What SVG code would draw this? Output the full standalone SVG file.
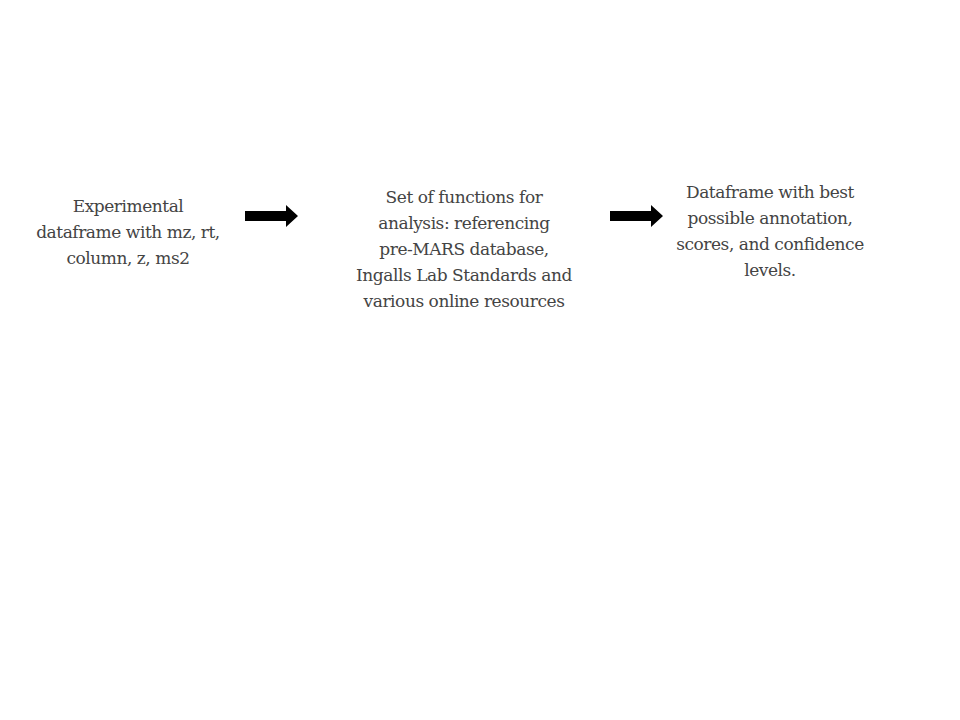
<svg xmlns="http://www.w3.org/2000/svg" width="960" height="720" viewBox="0 0 960 720">
<style>
text { font-family: "DejaVu Serif", "Liberation Serif", serif; font-size: 17px; letter-spacing: -0.45px; fill: #444444; text-anchor: middle; }
.arrow { fill: #000000; }
</style>
<rect width="960" height="720" fill="#ffffff"/>
<g id="node-input">
<text x="128" y="212">Experimental</text>
<text x="128" y="238">dataframe with mz, rt,</text>
<text x="128" y="264">column, z, ms2</text>
</g>
<g id="node-functions">
<text x="464" y="203">Set of functions for</text>
<text x="464" y="229">analysis: referencing</text>
<text x="464" y="255">pre-MARS database,</text>
<text x="464" y="281">Ingalls Lab Standards and</text>
<text x="464" y="307">various online resources</text>
</g>
<g id="node-output">
<text x="770" y="198">Dataframe with best</text>
<text x="770" y="224">possible annotation,</text>
<text x="770" y="250">scores, and confidence</text>
<text x="770" y="276">levels.</text>
</g>
<g id="connectors">
<polygon class="arrow" points="245,211 286,211 286,205 298,216 286,227 286,221 245,221"/>
<polygon class="arrow" points="610,211 651,211 651,205 663,216 651,227 651,221 610,221"/>
</g>
</svg>
